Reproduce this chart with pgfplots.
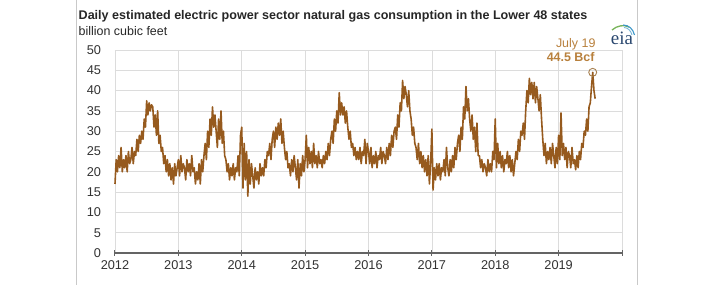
\documentclass[border=0pt]{standalone}
\usepackage{pgfplots}
\pgfplotsset{compat=1.18}
\usepackage{pgfplotstable}
\usepackage{fontspec}
\setmainfont{Liberation Sans}
\newfontfamily\eiafont{Liberation Serif}
\definecolor{gasbrown}{RGB}{150,90,30}
\definecolor{anno}{RGB}{184,128,60}
\definecolor{gridgray}{RGB}{220,220,220}
\definecolor{axisgray}{RGB}{100,100,100}
\definecolor{labelgray}{RGB}{50,50,50}
\definecolor{eiablue}{RGB}{40,70,110}
\definecolor{eiagreen}{RGB}{120,180,90}
\definecolor{eiacyan}{RGB}{60,150,200}

% weekly readings, 52 per year, from Jan 2012 to late Jul 2019
\pgfplotstableread{
v
17
23
20
24
21
26
20
23
21
24
20
25
22
23
26
22
25
24
28
25
29
27
30
28
33
31
37.5
34
37
35
36.5
36
31
34
29
35
27
29
25
26
22
24
20
23
19
22
18
21
17
22
19
21
23
19
24
20
22
21
18
23
20
22
19
24
20
21
17
20
18
22
17
23
20
24
27
23
30
26
33
29
36
31
34
30
26
33
28
35
27
30
24
23
20
22
18
21
19
22
18
21
20
24
19
29
31
16
27
18
25
14
23
17
22
19
16
21
18
20
17
22
19
21
19
23
21
25
24
27
23
28
30
26
31
28
32
29
33
27
30
26
23
25
21
22
19
23
20
24
21
18
23
16
22
19
24
20
23
29
21
26
22
25
21
27
22
24
21
25
22
23
21
24
22
25
23
27
24
28
30
27
33
30
35
32
39.5
34
37
34
36
32
35
31
28
30
26
27
24
26
23
25
23
26
22
25
24
28
22
27
25
22
26
21
24
22
25
21
24
23
26
22
25
24
22
26
23
27
24
29
26
30
31
28
34
31
37
35
42.5
38
41
39
36
40
35
33
29
31
27
26
23
27
22
25
21
24
20
23
19
24
17
22
30.5
15.5
21
18
22
19
22
18
21
20
23
19
26
21
19
23
20
24
21
26
23
27
29
25
31
28
36
33
41
35
38
33
30
34
28
31
25
32
24
24
21
23
20
22
21
19
23
20
22
20
25
23
33
21
27
22
25
21
24
20
23
22
25
21
24
20
23
19
22
25
23
28
25
30
29
32
28
35
40
37
43
39
42
38
42
37
41
38
35
39
33
28
24
27
22
25
23
26
22
27
24
21
26
22
29
23
34.5
24
27
23
26
21
25
24
21
26
22
23
20.5
24
21
25
23
27
26
30
29
33
30
36
37
41
44.5
40
38
}\gasdata

\begin{document}
\begin{tikzpicture}
\path[use as bounding box] (-115bp,-32bp) rectangle (610bp,253bp);
% frame lines
\draw[gridgray!80!gray, line width=0.8bp] (-39bp,-32bp) -- (-39bp,253bp);
\draw[gridgray!80!gray, line width=0.8bp] (522bp,-32bp) -- (522bp,253bp);
% title
\node[anchor=base west, inner sep=0pt, text=black!85, font=\fontsize{12.6}{14}\selectfont\bfseries] at (-36.5bp,233.7bp) {Daily estimated electric power sector natural gas consumption in the Lower 48 states};
\node[anchor=base west, inner sep=0pt, text=black!85, font=\fontsize{12.5}{14}\selectfont] at (-36.5bp,217.3bp) {billion cubic feet};
% eia logo
\node[anchor=base, inner sep=0pt, text=eiablue, font=\fontsize{19}{20}\selectfont\eiafont] at (507bp,208bp) {eia};
\draw[eiagreen, line width=1.3bp] (497bp,223bp) .. controls (502bp,227.5bp) and (509bp,228.5bp) .. (514bp,226bp);
\draw[eiacyan, line width=1.1bp] (508bp,228bp) .. controls (514bp,228bp) and (518bp,224bp) .. (519.5bp,218bp);
\draw[eiacyan!70!white, line width=0.9bp] (509bp,225.5bp) .. controls (513bp,225.5bp) and (516bp,222bp) .. (517bp,218bp);
\begin{axis}[
  at={(0,0)}, anchor=south west,
  scale only axis, width=507bp, height=203bp,
  xmin=2012, xmax=2020, ymin=0, ymax=50,
  xtick={2012,2013,2014,2015,2016,2017,2018,2019,2020},
  xticklabels={2012,2013,2014,2015,2016,2017,2018,2019,{}},
  ytick={0,5,...,50},
  grid=major,
  major grid style={gridgray, line width=0.7bp},
  axis x line*=bottom, axis y line*=left,
  x axis line style={axisgray, line width=1.2bp},
  y axis line style={draw=none},
  ytick style={draw=none},
  xtick style={axisgray, line width=1bp},
  tick align=center, major tick length=5bp,
  /pgf/number format/assume math mode=true,
  tick label style={font=\fontsize{12.8}{14}\selectfont, text=labelgray},
  yticklabel style={anchor=east, xshift=-8bp},
  xticklabel style={anchor=north, yshift=-2bp},
  clip=false,
]
\addplot[gasbrown, line width=1.6bp, line join=round] table[x expr=2012+\coordindex/52, y=v] {\gasdata};
\addplot[only marks, mark=o, mark size=4bp, anno!70!gray, line width=0.9bp] coordinates {(2019.538,44.5)};
\node[anno, font=\fontsize{12.5}{14}\selectfont, inner sep=0pt] at (axis cs:2019.27,51.3) {July 19};
\node[anno, font=\fontsize{12.5}{14}\selectfont\bfseries, inner sep=0pt] at (axis cs:2019.19,48.3) {44.5 Bcf};
\end{axis}
\end{tikzpicture}
\end{document}
